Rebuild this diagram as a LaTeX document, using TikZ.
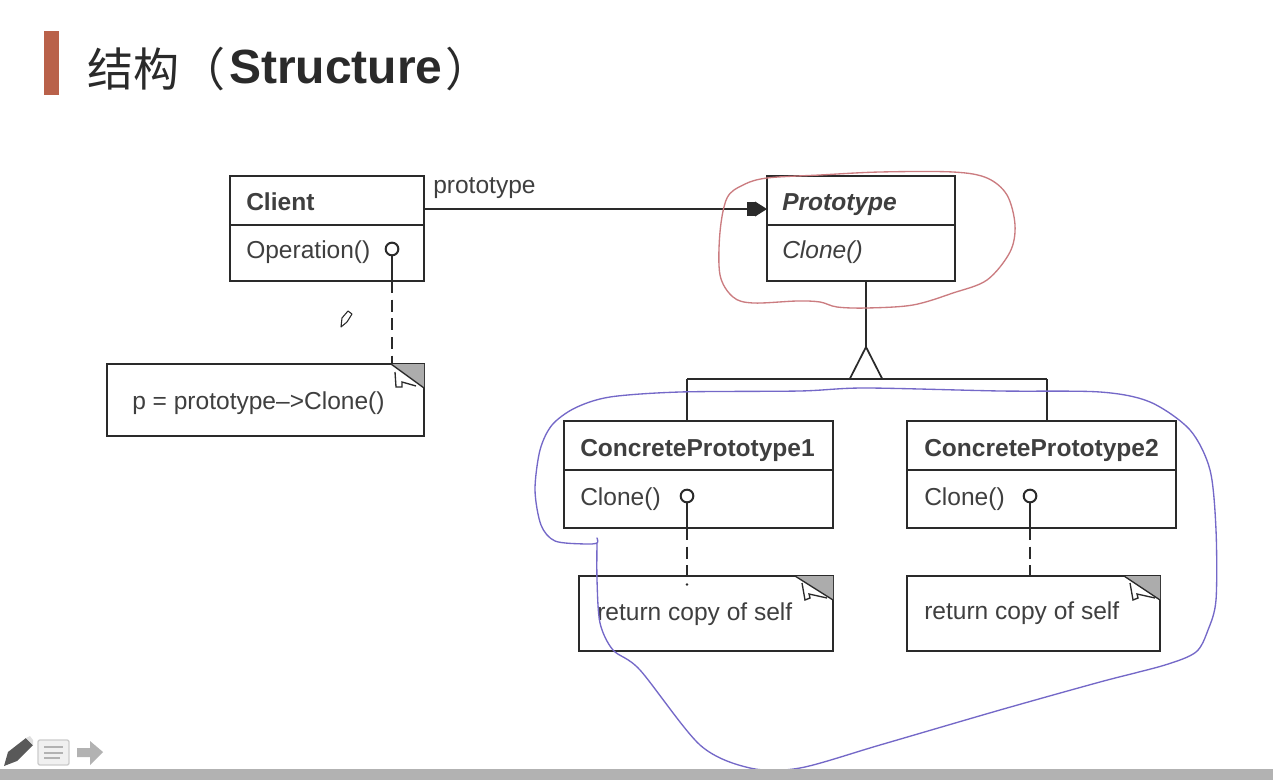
\documentclass[tikz,border=0pt]{standalone}
\usepackage{fontspec}
\setmainfont{Liberation Sans}
\newfontfamily\cjk{Noto Sans CJK SC}
\usetikzlibrary{shapes.geometric, arrows.meta}
\definecolor{umlink}{HTML}{2A2A2A}
\definecolor{titlebar}{HTML}{B9614A}
\definecolor{penred}{HTML}{CB7C80}
\definecolor{penblue}{HTML}{7468C8}
\tikzstyle{arrow} = [line width=1.4pt,umlink,-{Square[length=6pt,width=11pt,sep=0pt]Triangle[length=9pt,width=11pt]}]
\tikzstyle{umlbox} = [draw=umlink,line width=1.5pt,rectangle,inner sep=0pt,outer sep=0pt]
\tikzstyle{umltext} = [anchor=base west,inner sep=0pt,font=\fontsize{18.4}{20}\selectfont,text=umlink!90]
\tikzstyle{umlline} = [line width=1.5pt,umlink]
\tikzstyle{umldash} = [line width=1.5pt,umlink,dash pattern=on 9pt off 5pt]
\tikzstyle{lolly} = [circle,draw=umlink,line width=1.5pt,fill=white,minimum size=9.5pt,inner sep=0pt,outer sep=0pt]
\tikzstyle{fold} = [line width=1pt,umlink]
\tikzstyle{pen} = [line width=1pt,line join=round,line cap=round,smooth]

\begin{document}
\begin{tikzpicture}[x=0.75pt,y=-0.75pt]
	\useasboundingbox (0,0) rectangle (1273,780);
	\fill[white] (0,0) rectangle (1273,780);

	\fill[titlebar] (44,31) rectangle (59,95);
	\node[anchor=west,inner sep=0pt,text=umlink] (title) at (87,69) {\fontsize{34.5}{36}\selectfont{\cjk 结构（}\hspace{3pt}\raisebox{2pt}{\fontsize{36}{38}\selectfont\textbf{Structure}}\hspace{2pt}{\cjk ）}};

	\node[umlbox,minimum width=145.5pt,minimum height=36.75pt] (clienthead) at (327,200.5) {};
	\node[umlbox,minimum width=145.5pt,minimum height=42pt] (clientbody) at (327,253) {};
	\node[umltext] (clientname) at (246,211) {\textbf{Client}};
	\node[umltext] (clientop) at (246,259) {Operation()};
	\node[umltext] (protolabel) at (433,194) {prototype};

	\node[umlbox,minimum width=141pt,minimum height=36.75pt] (protohead) at (861,200.5) {};
	\node[umlbox,minimum width=141pt,minimum height=42pt] (protobody) at (861,253) {};
	\node[umltext] (protoname) at (782,211) {\textbf{\textit{Prototype}}};
	\node[umltext] (protoop) at (782,259) {\textit{Clone()}};

	\node[umlbox,minimum width=201.75pt,minimum height=36.75pt] (concahead) at (698.5,445.5) {};
	\node[umlbox,minimum width=201.75pt,minimum height=43.5pt] (concabody) at (698.5,499) {};
	\node[umltext] (concaname) at (580,456) {\textbf{ConcretePrototype1}};
	\node[umltext] (concaop) at (580,505) {Clone()};

	\node[umlbox,minimum width=201.75pt,minimum height=36.75pt] (concbhead) at (1041.5,445.5) {};
	\node[umlbox,minimum width=201.75pt,minimum height=43.5pt] (concbbody) at (1041.5,499) {};
	\node[umltext] (concbname) at (924,456) {\textbf{ConcretePrototype2}};
	\node[umltext] (concbop) at (924,505) {Clone()};

	\node[umlbox,minimum width=237.75pt,minimum height=54pt] (clientnote) at (265.5,400) {};
	\node[umlbox,minimum width=190.5pt,minimum height=56.25pt] (concanote) at (706,613.5) {};
	\node[umlbox,minimum width=189.75pt,minimum height=56.25pt] (concbnote) at (1033.5,613.5) {};
	\node[umltext] (clientcode) at (132,409) {p = prototype–>Clone()};
	\node[umltext] (concacode) at (597,620) {return copy of self};
	\node[umltext] (concbcode) at (924,619) {return copy of self};

	\fill[gray!65] (391,364) -- (424,364) -- (424,388) -- cycle;
	\draw[fold] (391,364) -- (424,388);
	\draw[fold] (395,372) -- (396,387) -- (402,387) -- (402,382) -- (416,386);
	\fill[gray!65] (795,576) -- (833,576) -- (833,600) -- cycle;
	\draw[fold] (795,576) -- (833,600);
	\draw[fold] (802,583) -- (805,600) -- (810,598) -- (809,594) -- (827,598);
	\fill[gray!65] (1124,576) -- (1160,576) -- (1160,600) -- cycle;
	\draw[fold] (1124,576) -- (1160,600);
	\draw[fold] (1130,583) -- (1133,600) -- (1138,598) -- (1137,594) -- (1155,598);

	\draw [arrow] ([yshift=-6.4pt]clienthead.east) -- ([yshift=-6.4pt]protohead.west);

	\node[lolly] (clientdot) at (392,249) {};
	\node[lolly] (concadot) at (687,496) {};
	\node[lolly] (concbdot) at (1030,496) {};
	\draw [umlline] (clientdot) -- (clientbody.south -| clientdot);
	\draw [umldash] (clientbody.south -| clientdot) -- (clientnote.north -| clientdot);
	\draw [umlline] (concadot) -- (concabody.south -| concadot);
	\draw [umldash] (concabody.south -| concadot) -- (concanote.north -| concadot);
	\fill[umlink] ([yshift=-6.4pt]concanote.north -| concadot) circle (1pt);
	\draw [umlline] (concbdot) -- (concbbody.south -| concbdot);
	\draw [umldash] (concbbody.south -| concbdot) -- (concbnote.north -| concbdot);

	\node[isosceles triangle,isosceles triangle apex angle=54,shape border rotate=90,draw=umlink,line width=1.3pt,fill=white,minimum height=24pt,inner sep=0pt,outer sep=0pt,anchor=apex] (inherit) at (866,347) {};
	\coordinate (busleft) at (687,379);
	\coordinate (busright) at (1047,379);
	\draw [umlline] (protobody.south -| inherit.apex) -- (inherit.apex);
	\draw [umlline] (busleft) -- (busright);
	\draw [umlline] (busleft) -- (concahead.north -| busleft);
	\draw [umlline] (busright) -- (concbhead.north -| busright);

	\draw[pen,penred] plot[smooth cycle,tension=0.55] coordinates {(767,178) (820,175) (880,172) (953,172) (987,178) (1007,195) (1015,225) (1010,252) (987,280) (953,293) (913,305) (867,308) (837,307) (820,302) (797,301) (753,303) (733,297) (720,275) (720,232) (727,198) (743,185)};

	\draw[pen,penblue] plot[smooth,tension=0.5] coordinates {(597,538) (597,543) (585,544) (555,541) (541,525) (535,490) (540,450) (552,425) (575,408) (610,397) (680,392) (800,391) (865,388) (1000,391) (1100,392) (1150,402) (1190,430) (1210,470) (1216,530) (1216,600) (1208,630) (1196,652) (1165,665) (1100,682) (1000,710) (880,745) (800,768) (750,768) (700,745) (640,670) (613,650) (600,623) (597,580) (597,543)};

	\draw[line width=0.8pt,umlink,fill=white,line join=round] (341,327) -- (342,318) -- (348,311) -- (352,314) -- (347,322) -- cycle;

	\fill[gray!70!black] (4,766) -- (8,752) -- (26,738) -- (33,745) -- (17,761) -- cycle;
	\fill[gray!25] (26,738) -- (30,736) -- (33,740) -- (33,745) -- cycle;
	\draw[gray!40,line width=1pt,fill=gray!12,rounded corners=1.5pt] (38,740) rectangle (69,765);
	\draw[gray!60,line width=1.5pt] (44,747) -- (63,747);
	\draw[gray!60,line width=1.5pt] (44,753) -- (63,753);
	\draw[gray!60,line width=1.5pt] (44,758) -- (60,758);
	\fill[gray!60] (77,748) -- (90,748) -- (90,741) -- (103,752) -- (90,765) -- (90,757) -- (77,757) -- cycle;
	\fill[gray!60] (0,769) rectangle (1273,780);
\end{tikzpicture}
\end{document}
